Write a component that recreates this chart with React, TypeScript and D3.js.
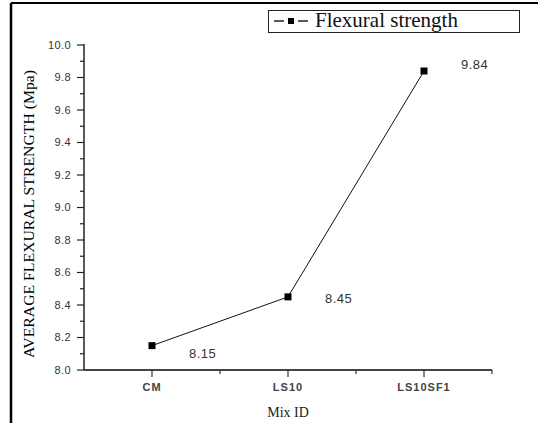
import React from "react";
import * as d3 from "d3";

const categories = ["CM", "LS10", "LS10SF1"];
const strength = [8.15, 8.45, 9.84];
const valueLabels = ["8.15", "8.45", "9.84"];
const yTicks = [8.0, 8.2, 8.4, 8.6, 8.8, 9.0, 9.2, 9.4, 9.6, 9.8, 10.0];
const yMinorTicks = [8.1, 8.3, 8.5, 8.7, 8.9, 9.1, 9.3, 9.5, 9.7, 9.9];
const seriesName = "Flexural strength";
const yTitle = "AVERAGE FLEXURAL STRENGTH (Mpa)";
const xTitle = "Mix ID";

const W = 538;
const H = 423;
const left = 84;
const right = 492;
const top = 45;
const bottom = 370;

export default function App() {
  const x = d3.scaleLinear().domain([0, categories.length]).range([left, right]);
  const y = d3.scaleLinear().domain([8, 10]).range([bottom, top]);
  const pts: [number, number][] = strength.map((v, i) => [x(i + 0.5), y(v)]);
  const line = d3.line()(pts) || "";
  const sans = "'Liberation Sans', Arial, sans-serif";
  const serif = "'Liberation Serif', 'Times New Roman', serif";
  const minorX = d3.range(1, categories.length + 1);

  return (
    <svg
      width={W}
      height={H}
      style={{ position: "absolute", left: 0, top: 0, background: "#fff" }}
    >
      {/* outer frame */}
      <line x1={11} y1={3} x2={W} y2={3} stroke="#000" strokeWidth={2} />
      <line x1={11} y1={3} x2={11} y2={H} stroke="#000" strokeWidth={2.5} />

      {/* legend */}
      <rect x={268.5} y={10.5} width={251} height={22} fill="#fff" stroke="#222" strokeWidth={1} />
      <line x1={274} y1={21} x2={284} y2={21} stroke="#000" strokeWidth={1.3} />
      <line x1={298} y1={21} x2={308} y2={21} stroke="#000" strokeWidth={1.3} />
      <rect x={288} y={18} width={6} height={6} fill="#000" />
      <text x={315} y={27} fontFamily={serif} fontSize={21} fill="#111">
        {seriesName}
      </text>

      {/* y axis */}
      <line x1={left} y1={top - 1} x2={left} y2={bottom} stroke="#222" strokeWidth={1.5} />
      {yTicks.map((t) => (
        <g key={"yt" + t}>
          <line x1={left - 7} x2={left} y1={y(t)} y2={y(t)} stroke="#222" strokeWidth={1.2} />
          <text
            x={left - 13}
            y={y(t)}
            dy="0.35em"
            textAnchor="end"
            fontFamily={sans}
            fontSize={11}
            letterSpacing={0.4}
            fill="#333"
          >
            {t.toFixed(1)}
          </text>
        </g>
      ))}
      {yMinorTicks.map((t) => (
        <line key={"ym" + t} x1={left - 4} x2={left} y1={y(t)} y2={y(t)} stroke="#222" strokeWidth={1.2} />
      ))}

      {/* x axis */}
      <line x1={left} y1={bottom} x2={right} y2={bottom} stroke="#444" strokeWidth={2} />
      {categories.map((c, i) => (
        <g key={c}>
          <line x1={x(i + 0.5)} x2={x(i + 0.5)} y1={bottom} y2={bottom + 7} stroke="#333" strokeWidth={1.2} />
          <text
            x={x(i + 0.5)}
            y={391}
            textAnchor="middle"
            fontFamily={sans}
            fontSize={11}
            fontWeight="bold"
            letterSpacing={1}
            fill="#444"
          >
            {c}
          </text>
        </g>
      ))}
      {minorX.map((m) => (
        <line key={"xm" + m} x1={x(m)} x2={x(m)} y1={bottom} y2={bottom + 4} stroke="#333" strokeWidth={1.2} />
      ))}

      {/* titles */}
      <text
        transform={`translate(34, ${(70 + 358) / 2}) rotate(-90)`}
        textAnchor="middle"
        fontFamily={serif}
        fontSize={14}
        textLength={288}
        lengthAdjust="spacingAndGlyphs"
        fill="#000"
      >
        {yTitle}
      </text>
      <text x={288} y={417} textAnchor="middle" fontFamily={serif} fontSize={14} fill="#222">
        {xTitle}
      </text>

      {/* series */}
      <path d={line} fill="none" stroke="#111" strokeWidth={1} />
      {pts.map(([px, py], i) => (
        <rect key={"p" + i} x={px - 3.5} y={py - 3.5} width={7} height={7} fill="#000" />
      ))}
      {pts.map(([px, py], i) => (
        <text
          key={"l" + i}
          x={px + 37}
          y={py + [8, 2, -7][i]}
          dy="0.35em"
          fontFamily={sans}
          fontSize={13}
          letterSpacing={0.5}
          fill="#333"
        >
          {valueLabels[i]}
        </text>
      ))}
    </svg>
  );
}
